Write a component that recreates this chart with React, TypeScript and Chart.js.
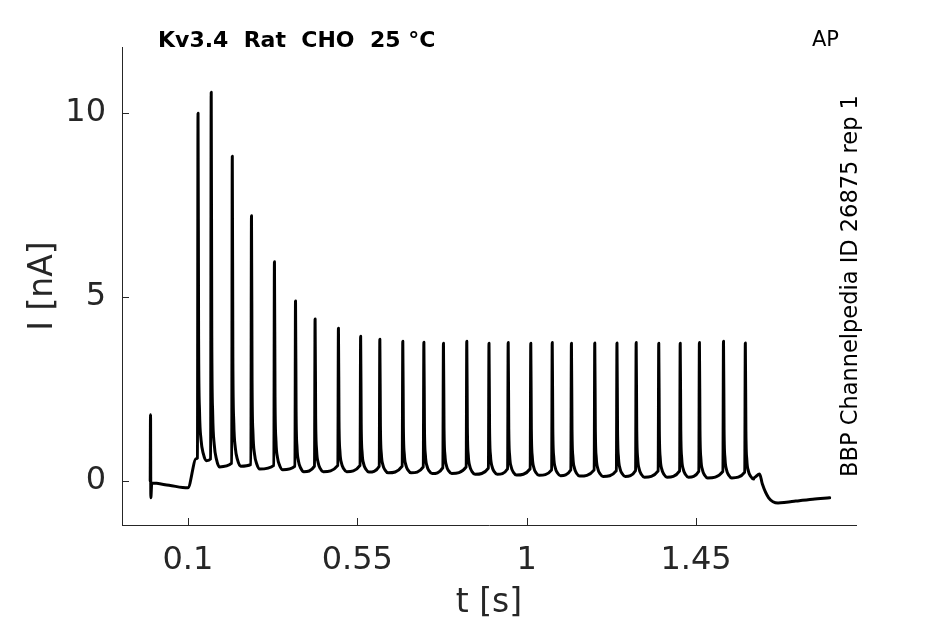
import React, { useEffect, useRef } from 'react';
import { Chart, registerables, Plugin } from 'chart.js';

Chart.register(...registerables);

// spike times [s], peak current [nA], level just before and trough just after each spike
const spikeTimes = [
  0.127, 0.162, 0.218, 0.269, 0.330, 0.386, 0.438, 0.500, 0.559, 0.610,
  0.671, 0.727, 0.779, 0.841, 0.900, 0.951, 1.011, 1.068, 1.119, 1.181,
  1.240, 1.291, 1.351, 1.408, 1.459, 1.523, 1.581,
];
const spikePeaks = [
  10.0, 10.57, 8.83, 7.21, 5.96, 4.89, 4.40, 4.15, 3.93, 3.85,
  3.80, 3.77, 3.74, 3.80, 3.74, 3.76, 3.74, 3.76, 3.74, 3.75,
  3.75, 3.76, 3.74, 3.74, 3.76, 3.80, 3.75,
];
const spikeFeet = [
  0.62, 0.60, 0.48, 0.45, 0.42, 0.40, 0.40, 0.42, 0.42, 0.40,
  0.40, 0.38, 0.36, 0.38, 0.35, 0.33, 0.33, 0.30, 0.30, 0.30,
  0.28, 0.28, 0.27, 0.27, 0.26, 0.26, 0.24,
];
const spikeTroughs = [
  0.55, 0.38, 0.40, 0.32, 0.30, 0.25, 0.25, 0.25, 0.24, 0.22,
  0.22, 0.20, 0.20, 0.18, 0.18, 0.16, 0.15, 0.14, 0.13, 0.12,
  0.12, 0.10, 0.10, 0.10, 0.08, 0.08, 0.05,
];
// decay of a spike: time after peak [s] and share of the spike height left
const decayOffsets = [0, 0.0015, 0.004, 0.008, 0.014];
const decayShares = [1, 0.35, 0.14, 0.06, 0.02];

// before the train (capacitive transient, holding, ramp) and after it
const onsetTimes = [0, 0.0008, 0.0016, 0.004, 0.05, 0.1, 0.122];
const onsetValues = [0, 1.8, -0.46, -0.06, -0.12, -0.19, 0.6];
const offsetTimes = [1.603, 1.619, 1.626, 1.643, 1.668, 1.69, 1.715, 1.76, 1.805];
const offsetValues = [0.08, 0.19, -0.08, -0.46, -0.6, -0.58, -0.55, -0.5, -0.46];

const xTicks = [0.1, 0.55, 1, 1.45];
const yTicks = [0, 5, 10];

const FONT = '"DejaVu Sans", sans-serif';
const AXIS = '#262626';

function buildTrace() {
  const pts: { x: number; y: number }[] = [];
  onsetTimes.forEach((t, i) => pts.push({ x: t, y: onsetValues[i] }));
  spikeTimes.forEach((ts, i) => {
    const base = spikeTroughs[i];
    const h = spikePeaks[i] - base;
    pts.push({ x: ts - 0.0015, y: spikeFeet[i] });
    decayOffsets.forEach((d, k) => pts.push({ x: ts + d, y: base + decayShares[k] * h }));
    pts.push({ x: ts + 0.022, y: base });
  });
  offsetTimes.forEach((t, i) => pts.push({ x: t, y: offsetValues[i] }));
  return pts;
}

const decorations: Plugin<'line'> = {
  id: 'decorations',
  afterDraw(chart) {
    const { ctx, chartArea, scales } = chart;
    ctx.save();
    ctx.strokeStyle = AXIS;
    ctx.lineWidth = 1;
    xTicks.forEach((v) => {
      const px = Math.round(scales.x.getPixelForValue(v)) + 0.5;
      ctx.beginPath();
      ctx.moveTo(px, chartArea.bottom);
      ctx.lineTo(px, chartArea.bottom - 7);
      ctx.stroke();
    });
    yTicks.forEach((v) => {
      const py = Math.round(scales.y.getPixelForValue(v)) + 0.5;
      ctx.beginPath();
      ctx.moveTo(chartArea.left, py);
      ctx.lineTo(chartArea.left + 7, py);
      ctx.stroke();
    });

    // axis labels
    ctx.fillStyle = AXIS;
    ctx.font = `33px ${FONT}`;
    ctx.textAlign = 'center';
    ctx.textBaseline = 'alphabetic';
    ctx.fillText('t [s]', (chartArea.left + chartArea.right) / 2, 612);
    ctx.save();
    ctx.translate(52, (chartArea.top + chartArea.bottom) / 2);
    ctx.rotate(-Math.PI / 2);
    ctx.fillText('I [nA]', 0, 0);
    ctx.restore();

    // title and notes
    ctx.fillStyle = '#000';
    ctx.textAlign = 'left';
    ctx.font = `bold 22px ${FONT}`;
    ctx.fillText('Kv3.4  Rat  CHO  25 °C', chartArea.left + 36, 47);
    ctx.font = `21px ${FONT}`;
    ctx.fillText('AP', 812, 46);
    ctx.save();
    ctx.translate(857, (chartArea.top + chartArea.bottom) / 2);
    ctx.rotate(-Math.PI / 2);
    ctx.textAlign = 'center';
    ctx.font = `22.5px ${FONT}`;
    ctx.fillText('BBP Channelpedia ID 26875 rep 1', 0, 0);
    ctx.restore();
    ctx.restore();
  },
};

export default function App() {
  const canvasRef = useRef<HTMLCanvasElement | null>(null);

  useEffect(() => {
    if (!canvasRef.current) return;
    const chart = new Chart(canvasRef.current, {
      type: 'line',
      data: {
        datasets: [
          {
            data: buildTrace(),
            borderColor: '#000',
            borderWidth: 3,
            borderJoinStyle: 'round',
            borderCapStyle: 'round',
            pointRadius: 0,
            cubicInterpolationMode: 'monotone',
          },
        ],
      },
      options: {
        animation: false,
        responsive: false,
        parsing: false,
        layout: { padding: { top: 47, right: 89, left: 0, bottom: 0 } },
        plugins: { legend: { display: false }, tooltip: { enabled: false } },
        scales: {
          x: {
            type: 'linear',
            min: -0.075,
            max: 1.875,
            grid: { display: false, drawTicks: false },
            border: { display: true, color: AXIS, width: 1 },
            afterBuildTicks: (s) => {
              s.ticks = xTicks.map((v) => ({ value: v }));
            },
            afterFit: (s) => {
              s.height = 99;
            },
            ticks: {
              padding: 16,
              color: AXIS,
              font: { family: FONT, size: 32 },
              maxRotation: 0,
              autoSkip: false,
              callback: (v) => String(v),
            },
          },
          y: {
            type: 'linear',
            min: -1.2,
            max: 11.8,
            grid: { display: false, drawTicks: false },
            border: { display: true, color: AXIS, width: 1 },
            afterBuildTicks: (s) => {
              s.ticks = yTicks.map((v) => ({ value: v }));
            },
            afterFit: (s) => {
              s.width = 122;
            },
            ticks: {
              padding: 16,
              color: AXIS,
              font: { family: FONT, size: 32 },
              autoSkip: false,
              callback: (v) => String(v),
            },
          },
        },
      },
      plugins: [decorations],
    });
    return () => chart.destroy();
  }, []);

  return (
    <div style={{ position: 'absolute', left: 0, top: 0, width: 945, height: 624, background: '#fff' }}>
      <canvas ref={canvasRef} width={945} height={624} />
    </div>
  );
}
